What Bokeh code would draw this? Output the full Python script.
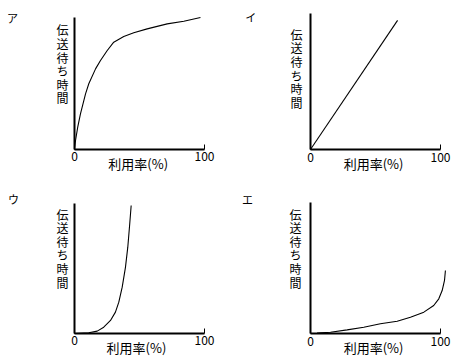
from bokeh.plotting import figure
from bokeh.layouts import gridplot
from bokeh.models import Range1d, FixedTicker, Label
from bokeh.embed import file_html
from bokeh.resources import INLINE

# ---- data ----
panel_names = ["ア", "イ", "ウ", "エ"]
y_label_text = "伝送待ち時間"
x_label_text = "利用率(%)"
x_ticks = [0, 100]

a_x = [0, 0.8, 2.5, 4.6, 8.5, 11, 16.2, 20, 25.2, 30.2, 37.9, 45.6, 55.9, 71.3, 84.1, 96.9]
a_y = [0, 6.8, 16.9, 27, 42.2, 49.8, 61.1, 67.4, 75, 81.3, 85.6, 88.4, 91.4, 95.2, 97.2, 100]

b_x = [0, 67]
b_y = [0, 95]

c_x = [0, 11, 17.5, 22.5, 27.7, 31.5, 34.1, 36.7, 39.2, 41.0, 42.5, 43.6]
c_y = [0, 0.5, 1.8, 4.8, 10, 16.4, 24.1, 35.6, 50.9, 66.4, 84.4, 98.5]

d_x = [5, 7.7, 15.4, 28.2, 41, 53.8, 66.7, 76.9, 87.2, 94.8, 98.7, 101.3, 103.1, 103.8]
d_y = [0.3, 0.5, 1, 2.8, 4.8, 7.4, 9.4, 12.4, 16.3, 21.4, 26.5, 32.8, 40.5, 48.1]

FONT = "Noto Sans CJK JP"


def make_panel(name, xs, ys, xr, yr, name_pos, ylab_pos, xlab_pos):
    p = figure(width=230, height=180, output_backend="svg", toolbar_location=None,
               x_range=Range1d(*xr), y_range=Range1d(*yr), min_border=0)
    p.outline_line_color = None
    p.grid.visible = False
    p.background_fill_color = "white"
    p.border_fill_color = "white"

    xa = p.xaxis[0]
    xa.fixed_location = 0
    xa.ticker = FixedTicker(ticks=x_ticks)
    xa.bounds = (0, 100)
    xa.axis_line_width = 2
    xa.axis_line_color = "black"
    xa.major_tick_in = 5
    xa.major_tick_out = 0
    xa.major_tick_line_color = "black"
    xa.minor_tick_line_color = None
    xa.major_label_standoff = 3
    xa.major_label_text_font = FONT
    xa.major_label_text_font_size = "12px"
    xa.major_label_text_color = "black"

    ya = p.yaxis[0]
    ya.fixed_location = 0
    ya.ticker = FixedTicker(ticks=[])
    ya.bounds = (0, 100)
    ya.axis_line_width = 2
    ya.axis_line_color = "black"
    ya.major_tick_line_color = None
    ya.minor_tick_line_color = None

    p.line(xs, ys, line_color="black", line_width=1.1)

    p.add_layout(Label(x=name_pos[0], y=name_pos[1], text=name,
                       text_font=FONT, text_font_size="11px",
                       text_align="center", text_baseline="middle",
                       text_color="black"))
    p.add_layout(Label(x=ylab_pos[0], y=ylab_pos[1], text="\n".join(y_label_text),
                       text_font=FONT, text_font_size="12px",
                       text_line_height=0.8,
                       text_align="center", text_baseline="top",
                       text_color="black"))
    p.add_layout(Label(x=xlab_pos[0], y=xlab_pos[1], text=x_label_text,
                       text_font=FONT, text_font_size="13px",
                       text_align="center", text_baseline="middle",
                       text_color="black"))
    return p


pa = make_panel(panel_names[0], a_x, a_y, xr=(-56.9, 120.0), yr=(-23.5, 112.9),
                name_pos=(-47.7, 100), ylab_pos=(-9.2, 97.0), xlab_pos=(49, -10.6))
pb = make_panel(panel_names[1], b_x, b_y, xr=(-61.5, 115.4), yr=(-22.8, 109.6),
                name_pos=(-46, 97.8), ylab_pos=(-10.8, 91.0), xlab_pos=(48.5, -10.3))
pc = make_panel(panel_names[2], c_x, c_y, xr=(-56.9, 120.0), yr=(-20.8, 117.7),
                name_pos=(-46.9, 103.8), ylab_pos=(-9.2, 98.4), xlab_pos=(47.7, -10.8))
pd = make_panel(panel_names[3], d_x, d_y, xr=(-61.5, 115.4), yr=(-20.6, 116.8),
                name_pos=(-48.5, 103), ylab_pos=(-11.5, 97.7), xlab_pos=(48.5, -10.8))

grid = gridplot([[pa, pb], [pc, pd]], toolbar_location=None)

open("out.html", "w").write(file_html(grid, INLINE))
